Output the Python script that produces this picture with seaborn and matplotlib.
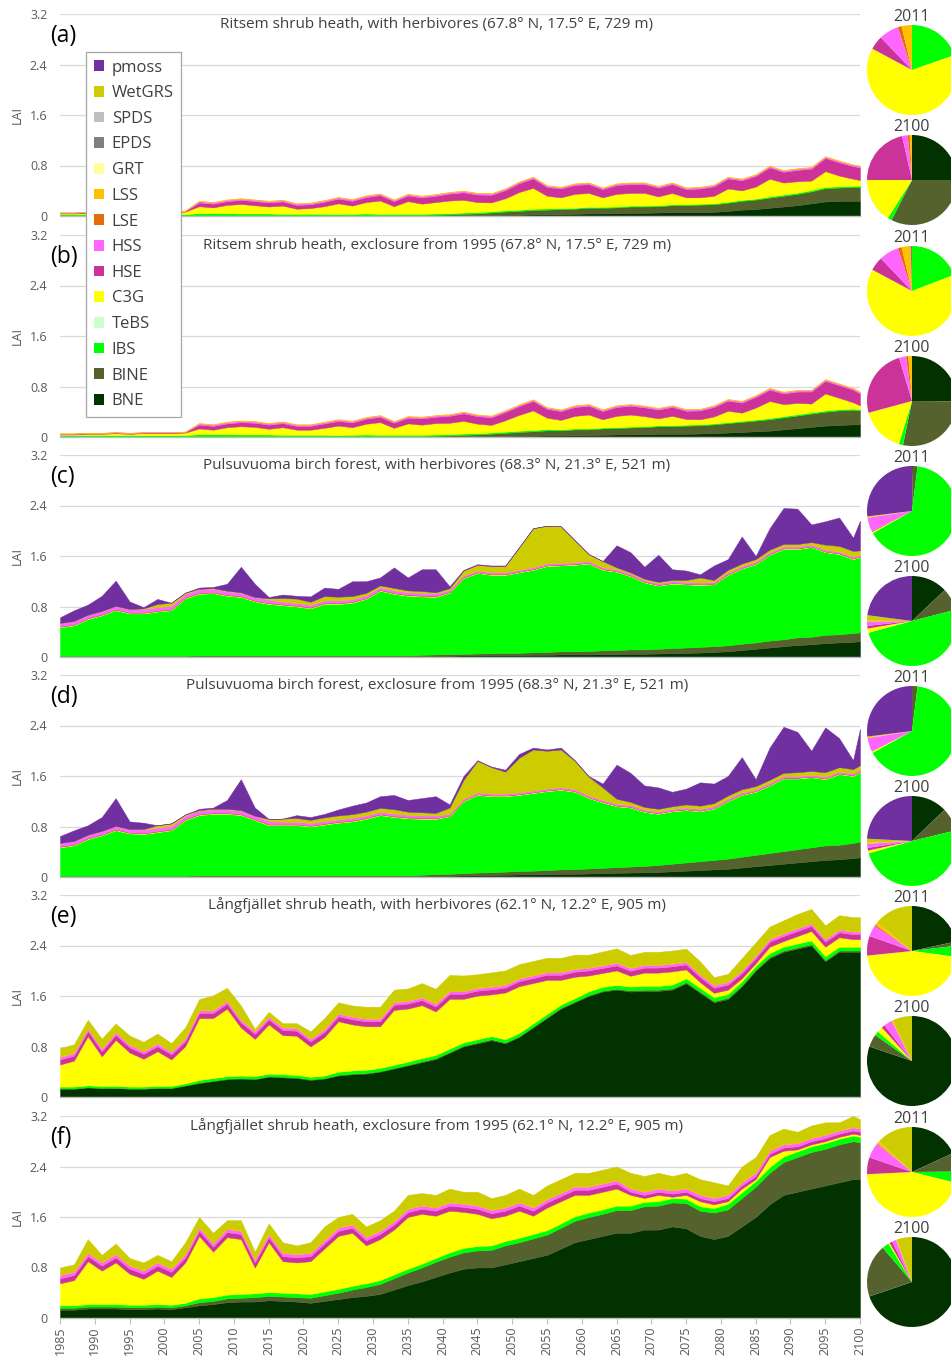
import numpy as np
import matplotlib
matplotlib.use("Agg")
import matplotlib.pyplot as plt
from matplotlib.patches import Patch
import seaborn as sns

sns.set_theme(style="white")
plt.rcParams["font.family"] = ["Open Sans", "DejaVu Sans"]

# Simulation years (two-year steps plus the final year)
YEARS = list(range(1985, 2100, 2)) + [2100]

# Plant functional types, bottom of the stack first
PFTS = ["BNE", "BINE", "IBS", "TeBS", "C3G", "HSE", "HSS", "LSE", "LSS",
        "GRT", "EPDS", "SPDS", "WetGRS", "pmoss"]
PFT_COLORS = {
    "BNE": "#013200", "BINE": "#56622E", "IBS": "#00FF00", "TeBS": "#CCFFCC",
    "C3G": "#FFFF00", "HSE": "#CC3399", "HSS": "#FF66FF", "LSE": "#E46C0A",
    "LSS": "#FFC000", "GRT": "#FFFF99", "EPDS": "#808080", "SPDS": "#BFBFBF",
    "WetGRS": "#CCCC00", "pmoss": "#7030A0",
}

# ---------------- (a) Ritsem, with herbivores ----------------
A_BNE = [0, 0, 0, 0, 0, 0, 0, 0, 0, 0,
         0, 0, 0, 0, 0, 0, 0, 0, 0, 0,
         0, 0, 0, 0, 0, 0, 0, 0, .005, .01,
         .01, .015, .02, .02, .025, .03, .03, .035, .04, .04,
         .045, .05, .05, .055, .06, .06, .06, .065, .08, .10,
         .11, .13, .15, .17, .20, .23, .24, .24, .24]
A_BINE = [0, 0, 0, 0, 0, 0, 0, 0, 0, 0,
          0, 0, 0, 0, 0, 0, 0, 0, 0, 0,
          0, .005, .01, .01, .01, .015, .015, .02, .02, .025,
          .03, .04, .05, .06, .07, .07, .08, .08, .09, .09,
          .09, .10, .10, .10, .11, .11, .12, .12, .13, .14,
          .15, .16, .17, .18, .19, .21, .21, .22, .22]
A_IBS = [.03, .03, .03, .03, .03, .03, .03, .03, .03, .03,
         .045, .045, .045, .04, .04, .04, .035, .035, .035, .035,
         .03, .03, .03, .025, .025, .02, .02, .02, .02, .02,
         .02, .02, .02, .02, .02, .02, .015, .015, .015, .015,
         .015, .015, .015, .015, .015, .015, .015, .015, .015, .015,
         .015, .02, .02, .02, .02, .02, .02, .02, .02]
A_C3G = [.01, .01, .02, .02, .03, .02, .03, .03, .03, .04,
         .11, .09, .13, .15, .13, .11, .13, .08, .09, .12,
         .17, .13, .18, .21, .12, .20, .16, .18, .20, .20,
         .16, .14, .19, .28, .33, .20, .17, .22, .22, .15,
         .20, .20, .20, .14, .18, .11, .10, .12, .21, .15,
         .19, .28, .19, .18, .15, .25, .17, .11, .09]
A_HSE = [.01, .01, .01, .01, .01, .01, .01, .01, .01, .01,
         .06, .06, .06, .065, .065, .065, .065, .06, .06, .07,
         .075, .075, .08, .085, .08, .09, .10, .10, .11, .12,
         .12, .12, .13, .14, .15, .14, .14, .14, .14, .13,
         .14, .14, .14, .14, .14, .13, .14, .15, .16, .16,
         .17, .18, .17, .18, .19, .21, .21, .20, .20]
A_HSS = [.005, .005, .005, .005, .005, .005, .005, .005, .005, .005,
         .02, .02, .02, .02, .02, .02, .02, .02, .02, .02,
         .02, .02, .02, .02, .02, .02, .02, .02, .02, .02,
         .02, .02, .02, .02, .02, .02, .02, .02, .02, .02,
         .02, .02, .02, .02, .02, .02, .02, .02, .02, .02,
         .02, .02, .02, .02, .02, .02, .02, .02, .02]
A_LSS = [.003, .003, .003, .003, .003, .003, .003, .003, .003, .003,
         .008, .008, .008, .008, .008, .008, .008, .008, .008, .008,
         .008, .008, .008, .008, .008, .008, .008, .008, .008, .008,
         .008, .008, .008, .008, .008, .008, .008, .008, .008, .008,
         .008, .008, .008, .008, .008, .008, .008, .008, .008, .008,
         .008, .008, .008, .008, .008, .008, .008, .008, .008]

# ---------------- (b) Ritsem, exclosure ----------------
B_BNE = [0, 0, 0, 0, 0, 0, 0, 0, 0, 0,
         0, 0, 0, 0, 0, 0, 0, 0, 0, 0,
         0, 0, 0, 0, 0, 0, 0, 0, .005, .01,
         .01, .012, .015, .02, .02, .025, .025, .03, .03, .035,
         .04, .04, .045, .05, .05, .05, .055, .06, .07, .08,
         .09, .10, .12, .14, .16, .18, .19, .20, .20]
B_BINE = [0, 0, 0, 0, 0, 0, 0, 0, 0, 0,
          0, 0, 0, 0, 0, 0, 0, 0, 0, 0,
          0, .005, .01, .01, .01, .015, .015, .02, .02, .025,
          .03, .04, .05, .06, .07, .08, .08, .09, .09, .10,
          .10, .11, .11, .12, .12, .13, .13, .14, .15, .16,
          .17, .18, .19, .20, .21, .22, .23, .23, .22]
B_IBS = [.03, .03, .03, .03, .03, .03, .03, .03, .03, .03,
         .045, .045, .045, .04, .04, .04, .035, .035, .035, .035,
         .03, .03, .03, .025, .025, .02, .02, .02, .02, .02,
         .02, .02, .02, .02, .02, .02, .015, .015, .015, .015,
         .015, .015, .015, .015, .015, .015, .015, .015, .015, .015,
         .015, .02, .02, .02, .02, .02, .02, .02, .02]
B_C3G = [.01, .01, .02, .02, .03, .02, .03, .03, .03, .04,
         .09, .07, .11, .13, .12, .09, .12, .08, .08, .11,
         .15, .12, .17, .20, .11, .18, .16, .18, .18, .20,
         .15, .12, .18, .25, .31, .18, .15, .20, .22, .13,
         .18, .19, .16, .11, .15, .09, .08, .11, .18, .13,
         .19, .27, .19, .18, .14, .27, .18, .10, .06]
B_HSE = [.01, .01, .01, .01, .01, .01, .01, .01, .01, .01,
         .06, .06, .06, .065, .065, .065, .065, .06, .06, .07,
         .075, .075, .08, .085, .08, .09, .10, .10, .11, .12,
         .12, .12, .13, .14, .15, .14, .14, .14, .14, .13,
         .14, .14, .14, .14, .14, .13, .14, .15, .16, .16,
         .17, .18, .17, .18, .19, .20, .20, .20, .19]
B_HSS = [.005, .005, .005, .005, .005, .005, .005, .005, .005, .005,
         .02, .02, .02, .02, .02, .02, .02, .02, .02, .02,
         .02, .02, .02, .02, .02, .02, .02, .02, .02, .02,
         .02, .02, .02, .02, .02, .02, .02, .02, .02, .02,
         .02, .02, .02, .02, .02, .02, .02, .02, .02, .02,
         .02, .02, .02, .02, .02, .02, .02, .02, .02]
B_LSS = [.003, .003, .003, .003, .003, .003, .003, .003, .003, .003,
         .008, .008, .008, .008, .008, .008, .008, .008, .008, .008,
         .008, .008, .008, .008, .008, .008, .008, .008, .008, .008,
         .008, .008, .008, .008, .008, .008, .008, .008, .008, .008,
         .008, .008, .008, .008, .008, .008, .008, .008, .008, .008,
         .008, .008, .008, .008, .008, .008, .008, .008, .008]

# ---------------- (c) Pulsuvuoma, with herbivores ----------------
C_BNE = [.005, .005, .005, .005, .005, .005, .005, .005, .005, .005,
         .01, .01, .01, .01, .01, .01, .01, .01, .01, .01,
         .01, .01, .01, .01, .01, .01, .015, .02, .02, .025,
         .025, .03, .03, .03, .035, .035, .04, .04, .04, .045,
         .045, .05, .05, .055, .06, .065, .07, .08, .09, .11,
         .13, .15, .17, .19, .20, .22, .23, .24, .25]
C_BINE = [.015, .015, .015, .015, .015, .015, .015, .015, .015, .015,
          .015, .015, .015, .015, .015, .015, .015, .015, .015, .015,
          .015, .015, .015, .015, .015, .015, .02, .02, .025, .025,
          .03, .03, .035, .035, .04, .045, .05, .05, .055, .06,
          .065, .07, .07, .075, .08, .085, .09, .09, .095, .10,
          .10, .11, .11, .12, .12, .13, .13, .14, .14]
C_IBS = [.45, .48, .58, .64, .72, .67, .67, .70, .72, .91,
         .975, .985, .945, .925, .855, .815, .795, .775, .745, .815,
         .815, .835, .895, 1.025, .975, .945, .925, .91, .975, 1.2,
         1.275, 1.24, 1.235, 1.275, 1.305, 1.36, 1.36, 1.37, 1.385, 1.275,
         1.24, 1.16, 1.06, 1.0, 1.02, 1.0, .98, .98, 1.115, 1.19,
         1.24, 1.36, 1.43, 1.4, 1.42, 1.31, 1.27, 1.17, 1.19]
C_C3G = [.01, .01, .01, .01, .01, .01, .01, .01, .01, .01,
         .01, .01, .01, .01, .01, .01, .01, .01, .01, .01,
         .01, .01, .01, .01, .01, .01, .01, .01, .01, .01,
         .01, .01, .01, .01, .01, .01, .01, .01, .01, .01,
         .01, .01, .01, .01, .01, .01, .01, .01, .01, .01,
         .01, .01, .01, .01, .01, .01, .01, .01, .01]
C_HSE = [.01, .01, .01, .01, .01, .01, .01, .01, .01, .01,
         .01, .01, .01, .01, .01, .01, .01, .01, .01, .01,
         .01, .01, .01, .01, .01, .01, .01, .01, .005, .005,
         .005, .005, .005, .005, .005, .005, .005, .005, .005, .005,
         .005, .005, .005, .005, .005, .005, .005, .005, .005, .005,
         .005, .005, .005, .005, .005, .005, .005, .005, .005]
C_HSS = [.05, .05, .05, .05, .05, .05, .05, .05, .05, .05,
         .05, .05, .05, .05, .05, .05, .035, .035, .035, .035,
         .035, .035, .035, .035, .035, .035, .035, .035, .025, .025,
         .025, .025, .025, .025, .025, .025, .025, .025, .025, .025,
         .025, .025, .025, .025, .025, .025, .025, .025, .025, .025,
         .025, .025, .025, .025, .025, .025, .025, .025, .025]
C_WET = [0, 0, 0, 0, 0, 0, .01, .05, .05, .02,
         .01, .01, .01, .005, 0, .02, .06, .07, .05, .07,
         .06, .05, .04, .03, .04, .03, .03, .02, .03, .08,
         .09, .10, .10, .36, .62, .60, .58, .35, .11, .10,
         .03, .02, .02, .02, .02, .03, .08, .03, .04, .04,
         .04, .04, .04, .04, .04, .08, .09, .09, .07]
C_PMOSS = [.09, .17, .16, .24, .40, .12, .02, .08, 0, 0,
           .02, .02, .11, .405, .21, .02, .055, .045, .085, .135,
           .125, .235, .185, .125, .325, .205, .345, .365, .03, .01,
           .01, .01, .01, 0, 0, 0, 0, 0, 0, 0,
           .35, .32, .19, .43, .17, .15, .05, .23, .17, .43,
           .05, .34, .57, .56, .28, .37, .45, .21, .47]

# ---------------- (d) Pulsuvuoma, exclosure ----------------
D_BNE = [.005, .005, .005, .005, .005, .005, .005, .005, .005, .005,
         .01, .01, .01, .01, .01, .01, .01, .01, .01, .01,
         .01, .01, .01, .01, .01, .01, .015, .02, .02, .025,
         .03, .03, .035, .04, .04, .045, .05, .05, .055, .06,
         .065, .07, .075, .08, .09, .10, .11, .12, .13, .15,
         .17, .19, .21, .23, .25, .27, .28, .30, .31]
D_BINE = [.015, .015, .015, .015, .015, .015, .015, .015, .015, .015,
          .015, .015, .015, .015, .015, .015, .015, .015, .015, .015,
          .015, .015, .015, .015, .015, .015, .02, .025, .03, .035,
          .04, .045, .05, .055, .06, .065, .07, .075, .08, .085,
          .09, .095, .10, .11, .12, .13, .14, .15, .16, .17,
          .18, .19, .20, .21, .22, .23, .23, .24, .25]
D_IBS = [.45, .48, .58, .64, .72, .67, .66, .69, .72, .88,
         .955, .975, .975, .955, .875, .795, .795, .795, .775, .805,
         .835, .855, .895, .955, .925, .905, .885, .875, .91, 1.14,
         1.23, 1.205, 1.195, 1.205, 1.23, 1.25, 1.26, 1.225, 1.115, 1.035,
         .965, .935, .855, .81, .83, .83, .79, .81, .91, .98,
         1.0, 1.07, 1.15, 1.12, 1.11, 1.05, 1.12, 1.06, 1.1]
D_C3G = [.01, .01, .01, .01, .01, .01, .01, .01, .01, .01,
         .01, .01, .01, .01, .01, .01, .01, .01, .01, .01,
         .01, .01, .01, .01, .01, .01, .01, .01, .01, .01,
         .01, .01, .01, .01, .01, .01, .01, .01, .01, .01,
         .01, .01, .01, .01, .01, .01, .01, .01, .01, .01,
         .01, .01, .01, .01, .01, .01, .01, .01, .01]
D_HSE = [.01, .01, .01, .01, .01, .01, .01, .01, .01, .01,
         .01, .01, .01, .01, .01, .01, .01, .01, .01, .01,
         .01, .01, .01, .01, .01, .01, .01, .01, .005, .005,
         .005, .005, .005, .005, .005, .005, .005, .005, .005, .005,
         .005, .005, .005, .005, .005, .005, .005, .005, .005, .005,
         .005, .005, .005, .005, .005, .005, .005, .005, .005]
D_HSS = [.05, .05, .05, .05, .05, .05, .05, .05, .05, .05,
         .05, .05, .05, .05, .05, .05, .035, .035, .035, .035,
         .035, .035, .035, .035, .035, .035, .035, .035, .025, .025,
         .025, .025, .025, .025, .025, .025, .025, .025, .025, .025,
         .025, .025, .025, .025, .025, .025, .025, .025, .025, .025,
         .025, .025, .025, .025, .025, .025, .025, .025, .025]
D_WET = [0, 0, 0, 0, 0, 0, .01, .04, .04, .02,
         .01, .01, .01, .01, 0, .03, .05, .06, .05, .06,
         .06, .06, .06, .06, .07, .05, .05, .04, .10, .30,
         .50, .42, .35, .55, .65, .60, .60, .45, .30, .20,
         .08, .05, .04, .04, .04, .05, .05, .05, .05, .05,
         .05, .05, .05, .06, .06, .07, .07, .07, .07]
D_PMOSS = [.11, .17, .15, .22, .44, .12, .10, 0, 0, 0,
           .02, .02, .14, .49, .13, 0, 0, .045, .045, .055,
           .095, .135, .145, .185, .225, .185, .225, .265, .05, .06,
           .01, .01, .03, .06, .03, .02, .03, .01, .01, .06,
           .54, .46, .34, .34, .23, .25, .37, .31, .31, .51,
           .11, .51, .73, .64, .32, .71, .46, .14, .58]

# ---------------- (e) Langfjallet, with herbivores ----------------
E_BNE = [.13, .13, .15, .14, .14, .13, .13, .14, .14, .18,
         .22, .25, .28, .29, .28, .32, .31, .30, .27, .29,
         .34, .36, .37, .40, .45, .50, .55, .60, .70, .80,
         .85, .90, .85, .95, 1.10, 1.25, 1.40, 1.50, 1.60, 1.67,
         1.70, 1.67, 1.68, 1.68, 1.70, 1.80, 1.65, 1.50, 1.55, 1.75,
         2.00, 2.20, 2.30, 2.35, 2.40, 2.15, 2.30, 2.30, 2.30]
E_BINE = [.005, .005, .005, .005, .005, .005, .005, .005, .005, .005,
          .01, .01, .01, .01, .01, .01, .01, .01, .01, .01,
          .01, .01, .01, .01, .01, .01, .015, .015, .015, .015,
          .015, .015, .015, .015, .015, .015, .015, .015, .015, .015,
          .015, .02, .02, .02, .02, .02, .02, .02, .02, .02,
          .02, .02, .02, .02, .02, .02, .02, .02, .02]
E_IBS = [.03, .03, .03, .03, .03, .03, .03, .03, .03, .03,
         .04, .04, .04, .04, .04, .04, .04, .04, .04, .04,
         .05, .05, .05, .05, .05, .05, .05, .05, .05, .05,
         .05, .05, .05, .05, .05, .05, .05, .05, .06, .06,
         .06, .06, .06, .06, .06, .06, .06, .06, .06, .06,
         .06, .06, .06, .06, .06, .06, .06, .06, .06]
E_C3G = [.35, .41, .78, .47, .73, .54, .44, .55, .42, .59,
         .98, .95, 1.07, .76, .59, .78, .62, .62, .48, .61,
         .80, .73, .69, .66, .87, .84, .84, .69, .79, .69,
         .69, .66, .74, .74, .64, .54, .39, .34, .25, .22,
         .23, .17, .21, .21, .21, .14, .09, .07, .07, .05,
         .04, .10, .09, .12, .15, .15, .15, .12, .12]
E_HSE = [.08, .08, .08, .08, .08, .08, .08, .08, .08, .08,
         .08, .08, .08, .08, .08, .08, .08, .08, .08, .08,
         .08, .08, .08, .08, .08, .08, .08, .08, .08, .08,
         .08, .08, .08, .08, .08, .08, .08, .08, .08, .08,
         .08, .08, .08, .08, .08, .08, .08, .08, .08, .08,
         .08, .08, .08, .08, .08, .08, .08, .08, .08]
E_HSS = [.04, .04, .04, .04, .04, .04, .04, .04, .04, .04,
         .04, .04, .04, .04, .04, .04, .04, .04, .04, .04,
         .04, .04, .04, .04, .04, .04, .04, .04, .04, .04,
         .04, .04, .04, .04, .04, .04, .04, .04, .04, .04,
         .04, .04, .04, .04, .04, .04, .04, .04, .04, .04,
         .04, .04, .04, .04, .04, .04, .04, .04, .04]
E_LSS = [.01, .01, .01, .01, .01, .01, .01, .01, .01, .01,
         .01, .01, .01, .01, .01, .01, .01, .01, .01, .01,
         .01, .01, .01, .01, .01, .01, .01, .01, .01, .01,
         .01, .01, .01, .01, .01, .01, .01, .01, .01, .01,
         .01, .01, .01, .01, .01, .01, .01, .01, .01, .01,
         .01, .01, .01, .01, .01, .01, .01, .01, .01]
E_WET = [.13, .13, .13, .15, .13, .14, .14, .15, .13, .17,
         .17, .23, .20, .22, .03, .07, .06, .07, .11, .17,
         .17, .17, .18, .18, .19, .19, .22, .23, .25, .24,
         .21, .22, .22, .22, .22, .22, .22, .22, .20, .21,
         .22, .20, .20, .20, .20, .20, .20, .12, .12, .19,
         .20, .19, .20, .22, .22, .21, .22, .22, .22]

# ---------------- (f) Langfjallet, exclosure ----------------
F_BNE = [.13, .13, .15, .15, .15, .14, .14, .15, .14, .17,
         .20, .22, .25, .26, .26, .28, .27, .26, .24, .27,
         .30, .33, .35, .38, .45, .52, .58, .65, .72, .78,
         .80, .80, .85, .90, .95, 1.00, 1.10, 1.20, 1.25, 1.30,
         1.35, 1.35, 1.40, 1.40, 1.45, 1.42, 1.30, 1.25, 1.30, 1.45,
         1.60, 1.80, 1.95, 2.00, 2.05, 2.10, 2.15, 2.20, 2.20]
F_BINE = [.03, .03, .03, .03, .03, .03, .03, .03, .03, .03,
          .05, .05, .06, .06, .07, .07, .07, .07, .08, .09,
          .10, .12, .14, .16, .18, .20, .22, .24, .25, .26,
          .27, .28, .30, .30, .31, .32, .33, .34, .35, .35,
          .36, .36, .37, .38, .38, .40, .40, .42, .42, .45,
          .48, .50, .52, .55, .58, .58, .60, .60, .58]
F_IBS = [.04, .04, .04, .04, .04, .04, .04, .04, .04, .04,
         .06, .06, .06, .06, .06, .06, .06, .06, .06, .06,
         .06, .06, .06, .06, .06, .06, .06, .06, .07, .07,
         .07, .07, .07, .07, .07, .07, .07, .07, .07, .07,
         .07, .07, .07, .07, .07, .07, .07, .07, .09, .09,
         .09, .09, .09, .09, .09, .09, .09, .09, .09]
F_C3G = [.35, .40, .68, .53, .66, .49, .41, .53, .44, .64,
         .99, .72, .91, .87, .41, .79, .50, .49, .52, .68,
         .84, .84, .60, .65, .71, .82, .79, .67, .66, .57,
         .51, .43, .40, .43, .29, .36, .35, .34, .28, .28,
         .27, .17, .06, .10, .02, .06, .08, .06, .04, .06,
         .03, .16, .09, .03, .03, .03, .03, .03, .03]
F_HSE = [.08, .08, .08, .08, .08, .08, .08, .08, .08, .08,
         .08, .08, .08, .08, .08, .08, .08, .08, .08, .08,
         .08, .08, .08, .08, .08, .08, .08, .08, .08, .08,
         .08, .08, .08, .08, .08, .08, .08, .08, .08, .08,
         .08, .05, .05, .05, .05, .05, .05, .05, .05, .05,
         .05, .05, .05, .05, .05, .05, .05, .05, .05]
F_HSS = [.05, .05, .05, .05, .05, .05, .05, .05, .05, .05,
         .05, .05, .05, .05, .05, .05, .05, .05, .05, .05,
         .05, .05, .05, .05, .05, .05, .05, .05, .05, .05,
         .05, .05, .05, .05, .05, .05, .05, .05, .05, .05,
         .05, .05, .05, .05, .05, .05, .05, .05, .05, .05,
         .05, .05, .05, .05, .05, .05, .05, .05, .05]
F_LSS = [.01, .01, .01, .01, .01, .01, .01, .01, .01, .01,
         .01, .01, .01, .01, .01, .01, .01, .01, .01, .01,
         .01, .01, .01, .01, .01, .01, .01, .01, .01, .01,
         .01, .01, .01, .01, .01, .01, .01, .01, .01, .01,
         .01, .01, .01, .01, .01, .01, .01, .01, .01, .01,
         .01, .01, .01, .01, .01, .01, .01, .01, .01]
F_WET = [.11, .11, .21, .11, .16, .11, .12, .11, .11, .18,
         .16, .16, .13, .16, .11, .16, .16, .13, .16, .21,
         .16, .16, .16, .16, .16, .21, .19, .19, .21, .18,
         .21, .18, .19, .21, .19, .21, .21, .21, .21, .21,
         .21, .24, .24, .24, .22, .24, .24, .24, .14, .24,
         .24, .24, .24, .17, .19, .19, .12, .17, .14]

# Pie shares (%), in PFTS order
PIE_A_2011 = [0, 0, 19.6, 0, 63, 5, 7, 1.4, 3.7, 0, 0, 0, 0, 0]
PIE_A_2100 = [25, 32.5, 1.5, 0, 16, 21.5, 2, 0.7, 0.8, 0, 0, 0, 0, 0]
PIE_B_2011 = [0, 0, 19, 0, 63, 5, 7, 1.3, 3.2, 0, 0.5, 0, 0, 0]
PIE_B_2100 = [25, 28, 1.5, 0, 16, 24.5, 2.5, 0.8, 1.3, 0, 0, 0, 0, 0]
PIE_C_2011 = [0.3, 1.7, 65, 0, 0.5, 0.3, 5, 0, 0.3, 0, 0, 0, 0.2, 27]
PIE_C_2100 = [13, 8, 50, 0, 1.5, 1, 1.5, 0, 0.3, 0, 0, 0, 2, 23]
PIE_D_2011 = [0, 2, 65, 0, 0.5, 0, 5, 0, 0.3, 0, 0, 0, 0.3, 27]
PIE_D_2100 = [13, 8.5, 50, 0, 1, 1, 1.5, 0, 0.3, 0, 0, 0, 1.5, 24.5]
PIE_E_2011 = [21.5, 1.5, 4, 0, 46, 7, 4, 0.5, 1, 0, 0, 0, 14, 0]
PIE_E_2100 = [79, 4.5, 1.5, 0, 2, 1.2, 3, 0, 0.3, 0, 0, 0, 7, 0]
PIE_F_2011 = [18, 6.7, 4, 0, 45, 6, 5.5, 0.3, 0.8, 0, 0, 0, 13, 0]
PIE_F_2100 = [70, 19, 2.5, 0, 0.5, 1, 1.5, 0, 0.3, 0, 0, 0, 5.5, 0]

TITLES = [
    "Ritsem shrub heath, with herbivores (67.8° N, 17.5° E, 729 m)",
    "Ritsem shrub heath, exclosure from 1995 (67.8° N, 17.5° E, 729 m)",
    "Pulsuvuoma birch forest, with herbivores (68.3° N, 21.3° E, 521 m)",
    "Pulsuvuoma birch forest, exclosure from 1995 (68.3° N, 21.3° E, 521 m)",
    "Långfjället shrub heath, with herbivores (62.1° N, 12.2° E, 905 m)",
    "Långfjället shrub heath, exclosure from 1995 (62.1° N, 12.2° E, 905 m)",
]
LETTERS = ["(a)", "(b)", "(c)", "(d)", "(e)", "(f)"]

PANEL_SERIES = [
    {"BNE": A_BNE, "BINE": A_BINE, "IBS": A_IBS, "C3G": A_C3G, "HSE": A_HSE,
     "HSS": A_HSS, "LSS": A_LSS},
    {"BNE": B_BNE, "BINE": B_BINE, "IBS": B_IBS, "C3G": B_C3G, "HSE": B_HSE,
     "HSS": B_HSS, "LSS": B_LSS},
    {"BNE": C_BNE, "BINE": C_BINE, "IBS": C_IBS, "C3G": C_C3G, "HSE": C_HSE,
     "HSS": C_HSS, "WetGRS": C_WET, "pmoss": C_PMOSS},
    {"BNE": D_BNE, "BINE": D_BINE, "IBS": D_IBS, "C3G": D_C3G, "HSE": D_HSE,
     "HSS": D_HSS, "WetGRS": D_WET, "pmoss": D_PMOSS},
    {"BNE": E_BNE, "BINE": E_BINE, "IBS": E_IBS, "C3G": E_C3G, "HSE": E_HSE,
     "HSS": E_HSS, "LSS": E_LSS, "WetGRS": E_WET},
    {"BNE": F_BNE, "BINE": F_BINE, "IBS": F_IBS, "C3G": F_C3G, "HSE": F_HSE,
     "HSS": F_HSS, "LSS": F_LSS, "WetGRS": F_WET},
]
PIES = [(PIE_A_2011, PIE_A_2100), (PIE_B_2011, PIE_B_2100),
        (PIE_C_2011, PIE_C_2100), (PIE_D_2011, PIE_D_2100),
        (PIE_E_2011, PIE_E_2100), (PIE_F_2011, PIE_F_2100)]

for k, series in enumerate(PANEL_SERIES):
    for name, vals in series.items():
        if len(vals) != len(YEARS):
            raise ValueError(f"panel {k} {name}: {len(vals)} values")

# ---------------- layout (pixel geometry of the figure) ----------------
W, H = 951, 1357
fig = plt.figure(figsize=(W / 100, H / 100), dpi=100)
AX_LEFT, AX_W, AX_H = 60, 800, 202
PANEL_TOPS = [14, 235, 455, 675, 895, 1116]
PIE_CX, PIE_R = 912, 45
TEXT_GREY = "#404040"
TICK_GREY = "#595959"

for i, series in enumerate(PANEL_SERIES):
    top = PANEL_TOPS[i]
    ax = fig.add_axes([AX_LEFT / W, 1 - (top + AX_H) / H, AX_W / W, AX_H / H])
    names = [p for p in PFTS if p in series]
    layers = [np.asarray(series[p], dtype=float) for p in names]
    cols = [PFT_COLORS[p] for p in names]
    polys = ax.stackplot(YEARS, layers, colors=cols, linewidth=0.3, zorder=2)
    for poly, c in zip(polys, cols):
        poly.set_edgecolor(c)

    ax.set_xlim(1985, 2100)
    ax.set_ylim(0, 3.2)
    ax.set_yticks([0, 0.8, 1.6, 2.4, 3.2])
    ax.set_yticklabels(["0", "0.8", "1.6", "2.4", "3.2"])
    ax.yaxis.grid(True, color="#D9D9D9", linewidth=0.9, zorder=0)
    ax.set_axisbelow(True)
    sns.despine(ax=ax, left=True, top=True, right=True, bottom=False)
    ax.spines["bottom"].set_color("#BFBFBF")
    ax.spines["bottom"].set_linewidth(1.0)
    ax.tick_params(axis="y", length=0, pad=9, labelsize=9, labelcolor=TICK_GREY)
    ax.set_ylabel("LAI", fontsize=9, color=TICK_GREY)
    ax.yaxis.set_label_coords(-0.045, 0.5)

    ax.set_xticks(list(range(1985, 2101, 5)))
    if i == len(PANEL_SERIES) - 1:
        ax.tick_params(axis="x", length=4, width=0.8, color="#BFBFBF",
                       labelsize=9, labelcolor=TICK_GREY, rotation=90, pad=2,
                       bottom=True)
    else:
        ax.tick_params(axis="x", length=0, labelbottom=False)

    ax.text(0.471, 0.95, TITLES[i], transform=ax.transAxes, ha="center",
            va="center", fontsize=11, color=TEXT_GREY)
    ax.text(-0.0125, 0.89, LETTERS[i], transform=ax.transAxes, ha="left",
            va="center", fontsize=16.5, color="black")

    for j, (year_label, shares) in enumerate(zip(["2011", "2100"], PIES[i])):
        cy = top + 56 + 110 * j
        pax = fig.add_axes([(PIE_CX - PIE_R) / W, 1 - (cy + PIE_R) / H,
                            2 * PIE_R / W, 2 * PIE_R / H])
        keep = [(v, PFT_COLORS[p]) for v, p in zip(shares, PFTS) if v > 0]
        pax.pie([v for v, _ in keep], colors=[c for _, c in keep],
                startangle=90, counterclock=False, radius=1.0,
                wedgeprops=dict(linewidth=0))
        pax.set_xlim(-1, 1)
        pax.set_ylim(-1, 1)
        pax.axis("off")
        fig.text(PIE_CX / W, 1 - (cy - 53) / H, year_label, ha="center",
                 va="center", fontsize=11.5, color=TEXT_GREY)

# Legend listing the stack from top to bottom
handles = [Patch(facecolor=PFT_COLORS[p], edgecolor="none") for p in PFTS[::-1]]
leg = fig.legend(handles, PFTS[::-1], loc="upper left",
                 bbox_to_anchor=(86 / W, 1 - 52 / H), frameon=True,
                 fancybox=False, framealpha=1, edgecolor="#A6A6A6",
                 fontsize=12, handlelength=0.6, handleheight=0.6,
                 handletextpad=0.5, labelspacing=0.58, borderpad=0.45,
                 borderaxespad=0)
for t in leg.get_texts():
    t.set_color(TEXT_GREY)
leg.get_frame().set_linewidth(0.9)

fig.savefig("out.png", dpi=100)
